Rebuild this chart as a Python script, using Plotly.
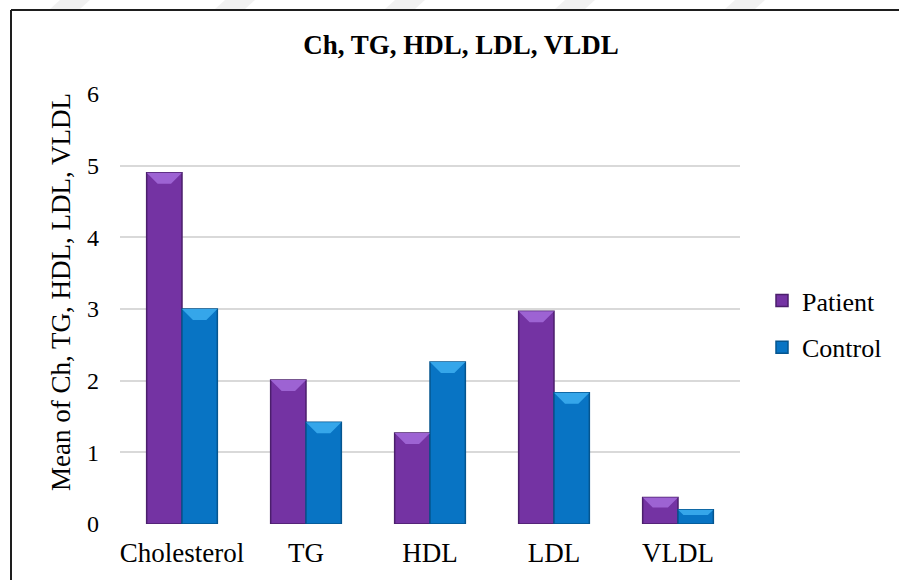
import plotly.graph_objects as go

# ---- data -------------------------------------------------------------
categories = ["Cholesterol", "TG", "HDL", "LDL", "VLDL"]
series_names = ["Patient", "Control"]
patient = [4.90, 2.01, 1.27, 2.97, 0.37]
control = [3.00, 1.42, 2.26, 1.83, 0.20]
y_ticks = [0, 1, 2, 3, 4, 5, 6]

# ---- styling ------------------------------------------------------------
W, H = 899, 580
M_L, M_R, M_T, M_B = 120, 159, 94, 56
FONT = "Liberation Serif"
face = {"Patient": "#7433a3", "Control": "#0874c4"}
edge = {"Patient": "#4b1f6c", "Control": "#05558f"}
bevel = {"Patient": "#9d63d3", "Control": "#35a6ea"}
BARGAP = 0.43

plot_w = W - M_L - M_R
plot_h = H - M_T - M_B
y_max = y_ticks[-1]


def px_x(px):
    """pixel x -> paper x"""
    return (px - M_L) / plot_w


def px_y(py):
    """pixel y (from top) -> paper y"""
    return (H - M_B - py) / plot_h


fig = go.Figure()

idx = list(range(len(categories)))
bar_w = (1 - BARGAP) / 2
for name, vals in zip(series_names, [patient, control]):
    fig.add_trace(go.Bar(
        x=idx, y=vals, name=name, legendgroup=name,
        marker=dict(color=face[name], line=dict(color=edge[name], width=1.5)),
    ))

# lighter bevelled cap on top of each bar, derived from the bar values
units_per_px_y = y_max / plot_h
units_per_px_x = (len(categories)) / plot_w
for k, (name, vals) in enumerate(zip(series_names, [patient, control])):
    xs, ys = [], []
    shift = (-0.5 + k) * bar_w
    for i, v in zip(idx, vals):
        cx = i + shift
        hw = bar_w / 2
        bh_px = min(11.0, 0.38 * v / units_per_px_y)
        bh = bh_px * units_per_px_y
        ins = bh_px * units_per_px_x
        xs += [cx - hw, cx + hw, cx + hw - ins, cx - hw + ins, cx - hw, None]
        ys += [v, v, v - bh, v - bh, v, None]
    fig.add_trace(go.Scatter(
        x=xs, y=ys, mode="lines", fill="toself", fillcolor=bevel[name],
        line=dict(width=0), hoverinfo="skip", showlegend=False,
    ))

shapes = []
# faint diagonal marks in the page margin above the frame
wm = "rgba(190,190,190,0.22)"
for x0 in [50, 215, 385, 555, 725]:
    shapes.append(dict(
        type="path", xref="paper", yref="paper", layer="below",
        path=f"M {px_x(x0)},{px_y(9)} L {px_x(x0 + 30)},{px_y(9)} "
             f"L {px_x(x0 + 40)},{px_y(0)} L {px_x(x0 + 10)},{px_y(0)} Z",
        line=dict(width=0), fillcolor=wm,
    ))
# chart frame: top and left edges
shapes.append(dict(
    type="line", xref="paper", yref="paper",
    x0=px_x(11), x1=px_x(W), y0=px_y(10), y1=px_y(10),
    line=dict(color="#1e1e1e", width=2),
))
shapes.append(dict(
    type="line", xref="paper", yref="paper",
    x0=px_x(11), x1=px_x(11), y0=px_y(10), y1=px_y(H),
    line=dict(color="#1e1e1e", width=2),
))

fig.update_layout(
    width=W, height=H,
    margin=dict(l=M_L, r=M_R, t=M_T, b=M_B),
    paper_bgcolor="white", plot_bgcolor="white",
    font=dict(family=FONT, color="black"),
    barmode="group", bargap=BARGAP, bargroupgap=0,
    title=dict(
        text="Ch, TG, HDL, LDL, VLDL",
        font=dict(family=FONT, size=27, color="black", weight="bold"),
        xref="container", x=461 / W, xanchor="center",
        yref="container", y=1 - 45 / H, yanchor="middle",
    ),
    xaxis=dict(
        range=[-0.5, len(categories) - 0.5],
        tickmode="array", tickvals=idx, ticktext=categories,
        tickfont=dict(family=FONT, size=27, color="black"),
        showgrid=False, zeroline=False, showline=False, ticks="",
        ticklabelstandoff=10,
    ),
    yaxis=dict(
        range=[0, y_max], tickmode="array", tickvals=y_ticks,
        tickfont=dict(family=FONT, size=24, color="black"),
        showgrid=True, gridcolor="#d9d9d9", gridwidth=1.6,
        zeroline=False, showline=False, ticks="",
        ticklabelstandoff=20,
    ),
    legend=dict(
        xref="container", yref="container",
        x=762 / W, y=1 - 277 / H, xanchor="left", yanchor="top",
        font=dict(family=FONT, size=26, color="black"),
        tracegroupgap=10, bgcolor="rgba(0,0,0,0)",
    ),
    annotations=[dict(
        text="Mean of Ch, TG, HDL, LDL, VLDL",
        xref="paper", yref="paper", x=px_x(61), y=px_y(292),
        xanchor="center", yanchor="middle", textangle=-90,
        showarrow=False, font=dict(family=FONT, size=27, color="black"),
    )],
    shapes=shapes,
    showlegend=True,
)

fig.write_html("out.html")
